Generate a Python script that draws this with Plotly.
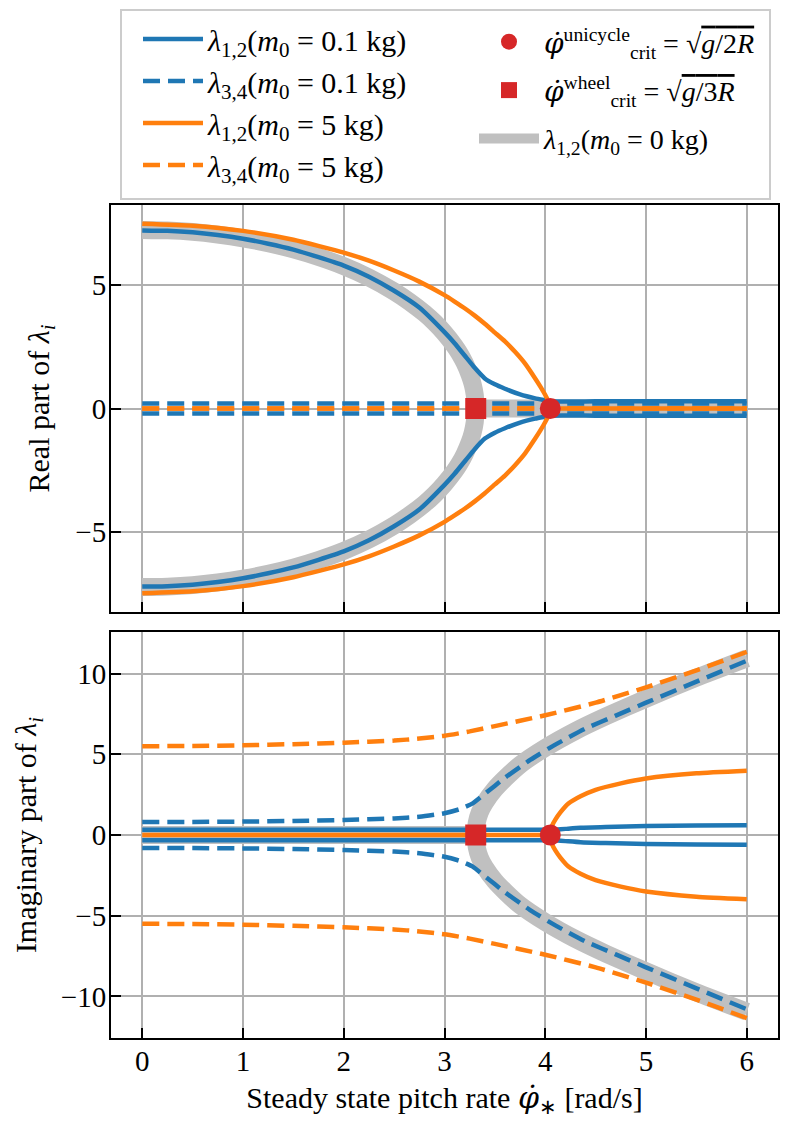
import plotly.graph_objects as go

# ---------------- data ----------------
# m0 = 0 kg (gray), real part, upper branch (lower branch is its mirror)
phi_g_re = [0, 0.25, 0.5, 0.75, 1.0, 1.25, 1.5, 1.75, 2.0, 2.25, 2.5, 2.65, 2.8, 2.9,
            3.0, 3.1, 3.15, 3.2, 3.25, 3.28, 3.3, 3.31]
g_re = [7.25, 7.23, 7.17, 7.06, 6.91, 6.71, 6.46, 6.15, 5.78, 5.32, 4.75, 4.34, 3.87, 3.50,
        3.06, 2.54, 2.23, 1.85, 1.37, 0.98, 0.56, 0.0]
phi_g_flat = [3.31, 6.0]
g_flat = [0.0, 0.0]
# m0 = 0 kg (gray), imaginary part branch
phi_g_im = [3.31, 3.32, 3.35, 3.4, 3.5, 3.6, 3.75, 4.0, 4.3, 4.6, 5.0, 5.5, 6.0]
g_im = [0.0, 0.75, 1.4, 2.0, 2.85, 3.5, 4.35, 5.4, 6.45, 7.35, 8.45, 9.75, 10.95]
phi_g_im_flat = [0.0, 3.31]
g_im_flat = [0.0, 0.0]

# m0 = 0.1 kg, lambda_1,2 (blue solid)
phi_b12_re = [0, 0.25, 0.5, 0.75, 1.0, 1.25, 1.5, 1.75, 2.0, 2.25, 2.5, 2.75, 3.0, 3.1,
              3.2, 3.3, 3.4, 3.5, 3.6, 3.75, 3.9, 4.0, 4.05, 4.5, 5.0, 5.5, 6.0]
b12_re = [7.23, 7.21, 7.15, 7.04, 6.89, 6.69, 6.45, 6.14, 5.8, 5.35, 4.78, 4.1, 3.1, 2.65,
          2.15, 1.65, 1.22, 0.98, 0.8, 0.57, 0.41, 0.33, 0.29, 0.29, 0.29, 0.29, 0.29]
phi_b12_im = [0, 1, 2, 3, 4, 4.05, 4.1, 4.2, 4.35, 4.6, 5.0, 5.5, 6.0]
b12_im = [0.32, 0.32, 0.32, 0.32, 0.32, 0.32, 0.33, 0.38, 0.45, 0.5, 0.56, 0.59, 0.61]

# m0 = 0.1 kg, lambda_3,4 (blue dashed)
phi_b34_re = [0, 1, 2, 3, 4, 5, 6]
b34_re = [0.2, 0.2, 0.2, 0.2, 0.2, 0.2, 0.2]
phi_b34_im = [0, 0.5, 1, 1.5, 2, 2.5, 2.75, 3.0, 3.15, 3.28, 3.4, 3.6, 3.85, 4.1, 4.4,
              4.7, 5.0, 5.5, 6.0]
b34_im = [0.8, 0.81, 0.83, 0.87, 0.93, 1.03, 1.13, 1.35, 1.6, 1.96, 2.55, 3.55, 4.65, 5.6,
          6.6, 7.4, 8.2, 9.5, 10.8]

# m0 = 5 kg, lambda_1,2 (orange solid)
phi_o12_re = [0, 0.5, 1.0, 1.5, 2.0, 2.25, 2.5, 2.75, 3.0, 3.1, 3.2, 3.3, 3.4, 3.5, 3.6,
              3.7, 3.8, 3.9, 3.95, 4.0, 4.03, 4.05]
o12_re = [7.5, 7.42, 7.21, 6.85, 6.33, 6.0, 5.6, 5.15, 4.6, 4.34, 4.07, 3.77, 3.44, 3.08,
          2.72, 2.3, 1.82, 1.22, 0.9, 0.55, 0.3, 0.0]
phi_o12_re_flat = [4.05, 6.0]
o12_re_flat = [0.0, 0.0]
phi_o12_im_flat = [0.0, 4.05]
o12_im_flat = [0.0, 0.0]
phi_o12_im = [4.05, 4.07, 4.1, 4.15, 4.23, 4.35, 4.5, 4.75, 5.0, 5.5, 6.0]
o12_im = [0.0, 0.6, 0.95, 1.4, 1.95, 2.4, 2.8, 3.2, 3.5, 3.82, 3.98]

# m0 = 5 kg, lambda_3,4 (orange dashed)
phi_o34_re = [0, 6]
o34_re = [0.0, 0.0]
phi_o34_im = [0, 0.5, 1, 1.5, 2, 2.5, 2.75, 3.0, 3.25, 3.5, 3.75, 4.0, 4.5, 5.0, 5.5, 6.0]
o34_im = [5.5, 5.52, 5.56, 5.63, 5.72, 5.85, 5.98, 6.15, 6.42, 6.75, 7.08, 7.42, 8.2, 9.15,
          10.2, 11.35]

# critical pitch rates
phi_crit_unicycle = 4.05
phi_crit_wheel = 3.31

x_ticks = [0, 1, 2, 3, 4, 5, 6]
y_ticks_re = [-5, 0, 5]
y_ticks_im = [-10, -5, 0, 5, 10]

# ---------------- styling ----------------
BLUE = "#1f77b4"
ORANGE = "#ff7f0e"
RED = "#d62728"
GRAY = "#c0c0c0"
FONT = "Liberation Serif"
LW = 4.5
DASH = "17px,8px"


def mirror(phi, vals):
    return phi + [None] + phi, vals + [None] + [-v for v in vals]


def join(*parts):
    xs, ys = [], []
    for px_, py_ in parts:
        if xs:
            xs.append(None)
            ys.append(None)
        xs += px_
        ys += py_
    return xs, ys


PHIDOT = "<span style='font-family:DejaVu Serif'><i>φ̇</i></span>"

fig = go.Figure()

lab_b12 = "<i>λ</i><sub>1,2</sub>(<i>m</i><sub>0</sub> = 0.1 kg)"
lab_b34 = "<i>λ</i><sub>3,4</sub>(<i>m</i><sub>0</sub> = 0.1 kg)"
lab_o12 = "<i>λ</i><sub>1,2</sub>(<i>m</i><sub>0</sub> = 5 kg)"
lab_o34 = "<i>λ</i><sub>3,4</sub>(<i>m</i><sub>0</sub> = 5 kg)"
lab_uni = (PHIDOT + "<sup>unicycle</sup><sub>crit</sub> = "
           "√<span style='text-decoration:overline'><i>g</i>/2<i>R</i></span>")
lab_whl = (PHIDOT + "<sup>wheel</sup><sub>crit</sub> = "
           "√<span style='text-decoration:overline'><i>g</i>/3<i>R</i></span>")
lab_g = "<i>λ</i><sub>1,2</sub>(<i>m</i><sub>0</sub> = 0 kg)"

SPL = dict(shape="spline", smoothing=0.5)

# ---- gray (m0 = 0) ----
x, y = join(mirror(phi_g_re, g_re), (phi_g_flat, g_flat))
fig.add_trace(go.Scatter(x=x, y=y, mode="lines", line=dict(color=GRAY, width=18, **SPL),
                         name=lab_g, legend="legend2", legendgroup="g", legendrank=7,
                         xaxis="x", yaxis="y"))
x, y = join(mirror(phi_g_im, g_im), (phi_g_im_flat, g_im_flat))
fig.add_trace(go.Scatter(x=x, y=y, mode="lines", line=dict(color=GRAY, width=18, **SPL),
                         name=lab_g, legendgroup="g", showlegend=False, xaxis="x2", yaxis="y2"))

# ---- blue solid ----
x, y = mirror(phi_b12_re, b12_re)
fig.add_trace(go.Scatter(x=x, y=y, mode="lines", line=dict(color=BLUE, width=LW, **SPL),
                         name=lab_b12, legendgroup="b12", legendrank=1, xaxis="x", yaxis="y"))
x, y = mirror(phi_b12_im, b12_im)
fig.add_trace(go.Scatter(x=x, y=y, mode="lines", line=dict(color=BLUE, width=LW, **SPL),
                         name=lab_b12, legendgroup="b12", showlegend=False, xaxis="x2", yaxis="y2"))

# ---- blue dashed ----
x, y = mirror(phi_b34_re, b34_re)
fig.add_trace(go.Scatter(x=x, y=y, mode="lines", line=dict(color=BLUE, width=LW, dash=DASH),
                         name=lab_b34, legendgroup="b34", legendrank=2, xaxis="x", yaxis="y"))
x, y = mirror(phi_b34_im, b34_im)
fig.add_trace(go.Scatter(x=x, y=y, mode="lines",
                         line=dict(color=BLUE, width=LW, dash=DASH, **SPL),
                         name=lab_b34, legendgroup="b34", showlegend=False, xaxis="x2", yaxis="y2"))

# ---- orange solid ----
x, y = join(mirror(phi_o12_re, o12_re), (phi_o12_re_flat, o12_re_flat))
fig.add_trace(go.Scatter(x=x, y=y, mode="lines", line=dict(color=ORANGE, width=LW, **SPL),
                         name=lab_o12, legendgroup="o12", legendrank=3, xaxis="x", yaxis="y"))
x, y = join(mirror(phi_o12_im, o12_im), (phi_o12_im_flat, o12_im_flat))
fig.add_trace(go.Scatter(x=x, y=y, mode="lines", line=dict(color=ORANGE, width=LW, **SPL),
                         name=lab_o12, legendgroup="o12", showlegend=False, xaxis="x2", yaxis="y2"))

# ---- orange dashed ----
x, y = mirror(phi_o34_re, o34_re)
fig.add_trace(go.Scatter(x=x, y=y, mode="lines", line=dict(color=ORANGE, width=LW, dash=DASH),
                         name=lab_o34, legendgroup="o34", legendrank=4, xaxis="x", yaxis="y"))
x, y = mirror(phi_o34_im, o34_im)
fig.add_trace(go.Scatter(x=x, y=y, mode="lines",
                         line=dict(color=ORANGE, width=LW, dash=DASH, **SPL),
                         name=lab_o34, legendgroup="o34", showlegend=False, xaxis="x2", yaxis="y2"))

# ---- critical markers ----
for xa, ya, show in (("x", "y", True), ("x2", "y2", False)):
    fig.add_trace(go.Scatter(x=[phi_crit_unicycle], y=[0], mode="markers",
                             marker=dict(symbol="circle", size=21, color=RED),
                             name=lab_uni, legend="legend2", legendgroup="uni", legendrank=5,
                             showlegend=show, xaxis=xa, yaxis=ya))
    fig.add_trace(go.Scatter(x=[phi_crit_wheel], y=[0], mode="markers",
                             marker=dict(symbol="square", size=21, color=RED),
                             name=lab_whl, legend="legend2", legendgroup="whl", legendrank=6,
                             showlegend=show, xaxis=xa, yaxis=ya))

# ---------------- layout ----------------
# the page body has an 8px margin: the figure div spans page px 8..789 / 8..1127
OFF = 8
W, H = 789 - OFF, 1127 - OFF
ml, mr, mt, mb = 111 - OFF, 11, 205 - OFF, 89
ph = H - mt - mb
pw = W - ml - mr


def px_x(p):  # page pixel -> paper coordinate
    return (p - OFF - ml) / pw


def px_y(p):
    return (H - mb - (p - OFF)) / ph


TICK_SIZE = 29
TITLE_SIZE = 30
LEG_SIZE = 30

axis_common = dict(showline=True, mirror=True, linecolor="black", linewidth=2,
                   ticks="inside", ticklen=10, tickwidth=2, tickcolor="black",
                   showgrid=True, gridcolor="#b0b0b0", gridwidth=2, zeroline=False,
                   tickfont=dict(family=FONT, size=TICK_SIZE, color="black"))

fig.update_layout(
    width=W, height=H,
    margin=dict(l=ml, r=mr, t=mt, b=mb, autoexpand=False),
    paper_bgcolor="white", plot_bgcolor="white",
    font=dict(family=FONT, size=TITLE_SIZE, color="black"),
    xaxis=dict(domain=[0, 1], anchor="y", range=[-0.31, 6.31], tickvals=x_ticks,
               showticklabels=False, **axis_common),
    yaxis=dict(domain=[px_y(612), 1], anchor="x", range=[-8.26, 8.26], tickvals=y_ticks_re,
               ticklabelstandoff=-3,
               title=dict(text="Real part of <i>λ</i><sub><i>i</i></sub>", standoff=17,
                          font=dict(family=FONT, size=TITLE_SIZE, color="black")),
               **axis_common),
    xaxis2=dict(domain=[0, 1], anchor="y2", range=[-0.31, 6.31], tickvals=x_ticks,
                matches="x", ticklabelstandoff=-4,
                title=dict(text="Steady state pitch rate " + PHIDOT + "<sub>∗</sub> [rad/s]",
                           standoff=11, font=dict(family=FONT, size=TITLE_SIZE, color="black")),
                **axis_common),
    yaxis2=dict(domain=[0, px_y(632)], anchor="x2", range=[-12.58, 12.58],
                tickvals=y_ticks_im, ticklabelstandoff=-3,
                title=dict(text="Imaginary part of <i>λ</i><sub><i>i</i></sub>", standoff=15,
                           font=dict(family=FONT, size=TITLE_SIZE, color="black")),
                **axis_common),
    legend=dict(x=px_x(138), y=px_y(13), xanchor="left", yanchor="top",
                xref="paper", yref="paper", traceorder="grouped", tracegroupgap=0,
                bgcolor="rgba(0,0,0,0)", borderwidth=0, itemwidth=60,
                font=dict(family=FONT, size=LEG_SIZE, color="black")),
    legend2=dict(x=px_x(474), y=px_y(17), xanchor="left", yanchor="top",
                 xref="paper", yref="paper", traceorder="grouped", tracegroupgap=9,
                 bgcolor="rgba(0,0,0,0)", borderwidth=0, itemwidth=60,
                 font=dict(family=FONT, size=28, color="black")),
    shapes=[dict(type="rect", xref="paper", yref="paper",
                 x0=px_x(121), x1=px_x(770), y0=px_y(199), y1=px_y(10),
                 line=dict(color="#cccccc", width=2), fillcolor="white", layer="below")],
)

fig.write_html("out.html")
